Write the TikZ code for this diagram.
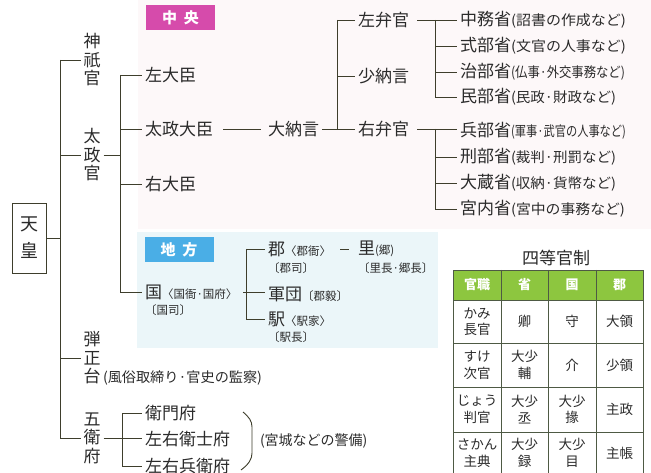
\documentclass[tikz,border=0pt]{standalone}
\usepackage{fontspec}
\usepackage{graphicx}
\setmainfont{Noto Sans CJK JP}
\usetikzlibrary{calc}
\definecolor{linec}{HTML}{3E3E2C}
\definecolor{txt}{HTML}{2B2B2B}
\definecolor{chuo}{HTML}{D64BAB}
\definecolor{chiho}{HTML}{4AAEE6}
\definecolor{tgreen}{HTML}{8DC63F}
\definecolor{pinkbg}{HTML}{FDF8F9}
\definecolor{bluebg}{HTML}{EBF6F9}
\definecolor{gridc}{HTML}{4E5A44}
\newcommand\bigf{\fontsize{17}{20}\selectfont}
\newcommand\smf{\fontsize{14}{16}\selectfont}
\newcommand\lcf{\fontsize{11.5}{14}\selectfont}
\newcommand\fitnote[2]{\resizebox{#1}{\height}{\smf #2}}
\begin{document}
\begin{tikzpicture}[x=1pt,y=-1pt,
 lbl/.style={inner sep=0pt, outer sep=3pt, anchor=west, text=txt, font=\bigf},
 sub/.style={inner sep=0pt, outer sep=3pt, anchor=west, text=txt, font=\smf},
 loc/.style={inner sep=0pt, outer sep=3pt, anchor=west, text=txt, font=\lcf},
 vert/.style={inner sep=0pt, outer sep=3pt, text=txt, font=\fontsize{17}{18.5}\selectfont, align=center},
 ln/.style={draw=linec, line width=0.8pt},
 tag/.style={inner sep=0pt, minimum width=69pt, minimum height=25pt, text=white, font=\fontsize{15}{15}\bfseries\selectfont},
 cell/.style={inner sep=0pt, text=txt, font=\fontsize{13.5}{16.5}\selectfont, align=center},
 head/.style={inner sep=0pt, text=white, font=\fontsize{13}{15}\bfseries\selectfont}
]
\useasboundingbox (0,0) rectangle (651,473);
\clip (0,0) rectangle (651,473);
\fill[white] (0,0) rectangle (651,473);
\fill[pinkbg] (138,0) rectangle (651,229);
\fill[bluebg] (137,232) rectangle (438,348);

% section tags
\node[tag, fill=chuo] (tchuo) at (180.5,18) {中\hspace{7pt}央};
\node[tag, fill=chiho] (tchiho) at (179,249.5) {地\hspace{7pt}方};

% emperor
\node[draw=linec, line width=0.7pt, minimum width=34pt, minimum height=70pt, inner sep=0pt, align=center, font=\fontsize{18}{27}\selectfont, text=txt] (tenno) at (29,238) {天\\皇};

% first level
\node[vert] (jingi) at (92,60) {神\\祇\\官};
\node[vert] (dajo) at (92,155) {太\\政\\官};
\node[vert] (danjo) at (92,358) {弾\\正\\台};
\node[sub] (danjonote) at (100,378) {\fitnote{159pt}{(風俗取締り·官史の監察)}};
\node[vert] (goei) at (92,438) {五\\衛\\府};

\coordinate (mainv) at (60,0);
\coordinate (subv) at (120,0);
\coordinate (benv) at (337,0);
\coordinate (shov) at (435,0);
\coordinate (gunv) at (246,0);
\coordinate (goev) at (122,0);

% 太政官 branch
\node[lbl] (sadaijin) at (142,75) {左大臣};
\node[lbl] (dajodaijin) at (142,129) {太政大臣};
\node[lbl] (udaijin) at (142,184) {右大臣};
\node[lbl] (dainagon) at (265,129) {大納言};
\node[lbl] (sabenkan) at (355,20) {左弁官};
\node[lbl] (shonagon) at (355,76) {少納言};
\node[lbl] (ubenkan) at (355,129) {右弁官};

% ministries
\node[lbl] (nakatsukasa) at (457,20) {中務省\fitnote{115pt}{(詔書の作成など)}};
\node[lbl] (shikibu) at (457,46) {式部省\fitnote{115pt}{(文官の人事など)}};
\node[lbl] (jibu) at (457,72) {治部省\fitnote{114pt}{(仏事·外交事務など)}};
\node[lbl] (minbu) at (457,97) {民部省\fitnote{105pt}{(民政·財政など)}};
\node[lbl] (hyobu) at (457,131) {兵部省\fitnote{115pt}{(軍事·武官の人事など)}};
\node[lbl] (gyobu) at (457,157) {刑部省\fitnote{105pt}{(裁判·刑罰など)}};
\node[lbl] (okura) at (457,183) {大蔵省\fitnote{105pt}{(収納·貨幣など)}};
\node[lbl] (kunai) at (457,209) {宮内省\fitnote{114pt}{(宮中の事務など)}};

% local
\node[lbl] (kuni) at (142,292) {国{\lcf 〈国衙·国府〉}};
\node[loc] (kunishi) at (142,310) {〔国司〕};
\node[lbl] (gun) at (265,249) {郡{\lcf 〈郡衙〉}};
\node[loc] (gunji) at (265,268) {〔郡司〕};
\node[lbl] (gundan) at (265,294) {軍団{\lcf 〔郡毅〕}};
\node[lbl] (eki) at (265,319) {駅{\lcf 〈駅家〉}};
\node[loc] (ekicho) at (265,337) {〔駅長〕};
\node[lbl] (sato) at (355,249) {里{\lcf (郷)}};
\node[loc] (satocho) at (355,268) {〔里長·郷長〕};

% 五衛府
\node[lbl] (emon) at (142,413) {衛門府};
\node[lbl] (saeji) at (142,439) {左右衛士府};
\node[lbl] (hyoe) at (142,466) {左右兵衛府};
\node[sub] (keibi) at (257,441) {(宮城などの警備)};

% connectors: main tree
\draw[ln] (tenno.east) -- (tenno.east -| mainv);
\draw[ln] (mainv |- jingi) -- (mainv |- goei);
\draw[ln] (mainv |- jingi) -- (jingi.west);
\draw[ln] (mainv |- dajo) -- (dajo.west);
\draw[ln] (mainv |- danjo) -- (danjo.west);
\draw[ln] (mainv |- goei) -- (goei.west);

% 太政官
\draw[ln] (dajo.east) -- (dajo.east -| subv);
\draw[ln] (subv |- sadaijin) -- (subv |- kuni);
\draw[ln] (subv |- sadaijin) -- (sadaijin.west);
\draw[ln] (subv |- dajodaijin) -- (dajodaijin.west);
\draw[ln] (subv |- udaijin) -- (udaijin.west);
\draw[ln] (subv |- kuni) -- (kuni.west);
\draw[ln, shorten <=7pt, shorten >=4pt] (dajodaijin.east) -- (dainagon.west);
\draw[ln] (dainagon.east) -- (ubenkan.west);
\draw[ln] (benv |- sabenkan) -- (benv |- ubenkan);
\draw[ln] (benv |- sabenkan) -- (sabenkan.west);
\draw[ln] (benv |- shonagon) -- (shonagon.west);

% 弁官 -> 省
\draw[ln, shorten <=5pt] (sabenkan.east) -- (sabenkan.east -| nakatsukasa.west);
\draw[ln] (shov |- nakatsukasa) -- (shov |- minbu);
\draw[ln] (shov |- shikibu) -- (shikibu.west);
\draw[ln] (shov |- jibu) -- (jibu.west);
\draw[ln] (shov |- minbu) -- (minbu.west);
\draw[ln, shorten <=5pt] (ubenkan.east) -- (ubenkan.east -| hyobu.west);
\draw[ln] (shov |- ubenkan) -- (shov |- kunai);
\draw[ln] (shov |- gyobu) -- (gyobu.west);
\draw[ln] (shov |- okura) -- (okura.west);
\draw[ln] (shov |- kunai) -- (kunai.west);

% 国
\draw[ln, shorten <=3pt] (kuni.east) -- (kuni.east -| gundan.west);
\draw[ln] (gunv |- gun) -- (gunv |- eki);
\draw[ln] (gunv |- gun) -- (gun.west);
\draw[ln] (gunv |- eki) -- (eki.west);
\draw[ln, shorten <=6pt, shorten >=6pt] (gun.east) -- (gun.east -| sato.west);

% 五衛府
\draw[ln] (goei.east) -- (goei.east -| saeji.west);
\draw[ln] (goev |- emon) -- (goev |- hyoe);
\draw[ln] (goev |- emon) -- (emon.west);
\draw[ln] (goev |- hyoe) -- (hyoe.west);
\draw[ln, line width=0.9pt] (243,412) .. controls (249,417) and (252,421) .. (252,427) -- (252,453) .. controls (252,459) and (249,464) .. (241,470);

% table
\node[inner sep=0pt, text=txt, font=\bigf] (ttitle) at (556,258) {四等官制};
\fill[tgreen] (453,270) rectangle (643,300);
\fill[white] (453,300) rectangle (643,480);
\draw[gridc, line width=0.8pt] (453,270) rectangle (643,480);
\foreach \x in {501,548,596} \draw[gridc, line width=0.8pt] (\x,270) -- (\x,480);
\foreach \y in {300,343,387,432} \draw[gridc, line width=0.8pt] (453,\y) -- (643,\y);
\node[head] (h1) at (477,285) {官職};
\node[head] (h2) at (524.5,285) {省};
\node[head] (h3) at (572,285) {国};
\node[head] (h4) at (619.5,285) {郡};
\node[cell] (c11) at (477,321.5) {かみ\\長官};
\node[cell] (c12) at (524.5,321.5) {卿};
\node[cell] (c13) at (572,321.5) {守};
\node[cell] (c14) at (619.5,321.5) {大領};
\node[cell] (c21) at (477,365) {すけ\\次官};
\node[cell] (c22) at (524.5,365) {大少\\輔};
\node[cell] (c23) at (572,365) {介};
\node[cell] (c24) at (619.5,365) {少領};
\node[cell] (c31) at (477,409.5) {じょう\\判官};
\node[cell] (c32) at (524.5,409.5) {大少\\丞};
\node[cell] (c33) at (572,409.5) {大少\\掾};
\node[cell] (c34) at (619.5,409.5) {主政};
\node[cell] (c41) at (477,453) {さかん\\主典};
\node[cell] (c42) at (524.5,453) {大少\\録};
\node[cell] (c43) at (572,453) {大少\\目};
\node[cell] (c44) at (619.5,453) {主帳};
\end{tikzpicture}
\end{document}
